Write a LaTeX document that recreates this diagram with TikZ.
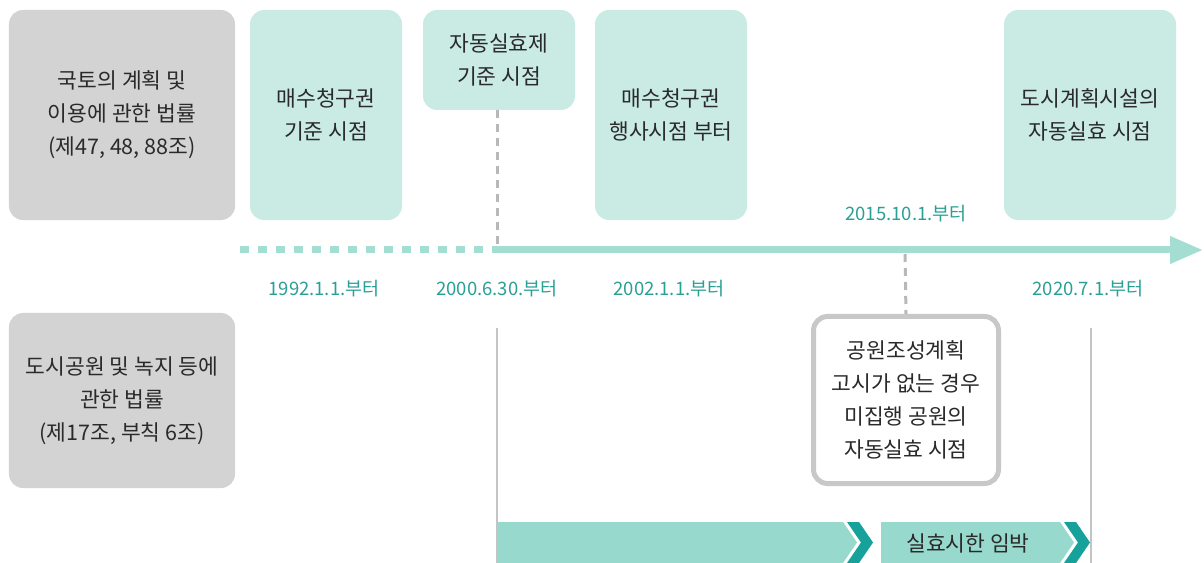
\documentclass[tikz,border=0pt]{standalone}
\usepackage{fontspec}
\setmainfont{Noto Sans CJK KR}
\usetikzlibrary{arrows.meta}
\definecolor{boxgray}{HTML}{D3D3D3}
\definecolor{mint}{HTML}{C9EBE4}
\definecolor{tline}{HTML}{A4DED3}
\definecolor{datecol}{HTML}{2A9F96}
\definecolor{dashgray}{HTML}{B8B8B8}
\definecolor{thingray}{HTML}{C4C4C4}
\definecolor{boxborder}{HTML}{C8C8C8}
\definecolor{barcol}{HTML}{97D9CD}
\definecolor{chevcol}{HTML}{17A19B}
\definecolor{txt}{HTML}{2A2A2A}
\begin{document}
\begin{tikzpicture}[x=1bp,y=-1bp,
  box/.style={rounded corners=14bp, inner sep=0, align=center, text=txt,
    font=\fontsize{21.5bp}{33bp}\selectfont},
  lawbox/.style={box, fill=boxgray, minimum width=226bp},
  mintbox/.style={box, fill=mint, minimum width=152bp},
  datelbl/.style={text=datecol, inner sep=0, font=\fontsize{18.5bp}{20bp}\selectfont},
  vdash/.style={dashgray, line width=3bp, dash pattern=on 8bp off 6bp},
  thin/.style={thingray, line width=1.5bp},
]
\useasboundingbox (0,0) rectangle (1204,563);

% boxes
\node[lawbox, minimum height=210bp] (law1) at (122,115) {국토의 계획 및\\이용에 관한 법률\\(제47, 48, 88조)};
\node[mintbox, minimum height=210bp] (buy1) at (326,115) {매수청구권\\기준 시점};
\node[mintbox, minimum height=100bp] (auto) at (499,60) {자동실효제\\기준 시점};
\node[mintbox, minimum height=210bp] (buy2) at (671,115) {매수청구권\\행사시점 부터};
\node[box, fill=mint, minimum width=172bp, minimum height=210bp] (city) at (1090,115) {도시계획시설의\\자동실효 시점};
\node[lawbox, minimum height=175bp] (law2) at (122,400.5) {도시공원 및 녹지 등에\\관한 법률\\(제17조, 부칙 6조)};
\node[box, draw=boxborder, line width=5bp, fill=white, minimum width=185bp, minimum height=167bp] (park) at (906,400) {공원조성계획\\고시가 없는 경우\\미집행 공원의\\자동실효 시점};

% timeline
\coordinate (t0) at (240,250);
\coordinate (t1) at (497,250);
\coordinate (tend) at (1203,250);
\coordinate (t2015) at (905,254);
\draw[tline, line width=7bp, dash pattern=on 9bp off 9bp] (t0) -- (t1);
\draw[tline, line width=7bp, -{Triangle[length=33bp,width=26bp]}] (t1) -- (tend);

% dashed connectors
\draw[vdash] (auto.south -| t1) -- (t1);
\draw[vdash] (t2015) -- (park.north);

% date labels
\node[datelbl] (d1992) at (324,289) {1992.1.1.부터};
\node[datelbl] (d2000) at (497,289) {2000.6.30.부터};
\node[datelbl] (d2002) at (669,289) {2002.1.1.부터};
\node[datelbl] (d2015) at (906,214) {2015.10.1.부터};
\node[datelbl] (d2020) at (1088,289) {2020.7.1.부터};

% thin vertical lines
\coordinate (v1top) at (497,328);
\coordinate (v1bot) at (497,563);
\coordinate (v2top) at (1091,328);
\coordinate (v2bot) at (1091,563);
\draw[thin] (v1top) -- (v1bot);
\draw[thin] (v2top) -- (v2bot);

% bottom bars
\fill[barcol] (497,522) -- (843,522) -- (857,542.5) -- (843,563) -- (497,563) -- cycle;
\fill[chevcol] (847,522) -- (859,522) -- (873,542.5) -- (859,563) -- (847,563) -- (861,542.5) -- cycle;
\fill[barcol] (881,522) -- (1060,522) -- (1074,542.5) -- (1060,563) -- (881,563) -- cycle;
\fill[chevcol] (1064,522) -- (1076,522) -- (1090,542.5) -- (1076,563) -- (1064,563) -- (1078,542.5) -- cycle;
\node[text=txt, inner sep=0, font=\fontsize{21.5bp}{24bp}\selectfont] (imminent) at (968,543) {실효시한 임박};
\end{tikzpicture}
\end{document}
